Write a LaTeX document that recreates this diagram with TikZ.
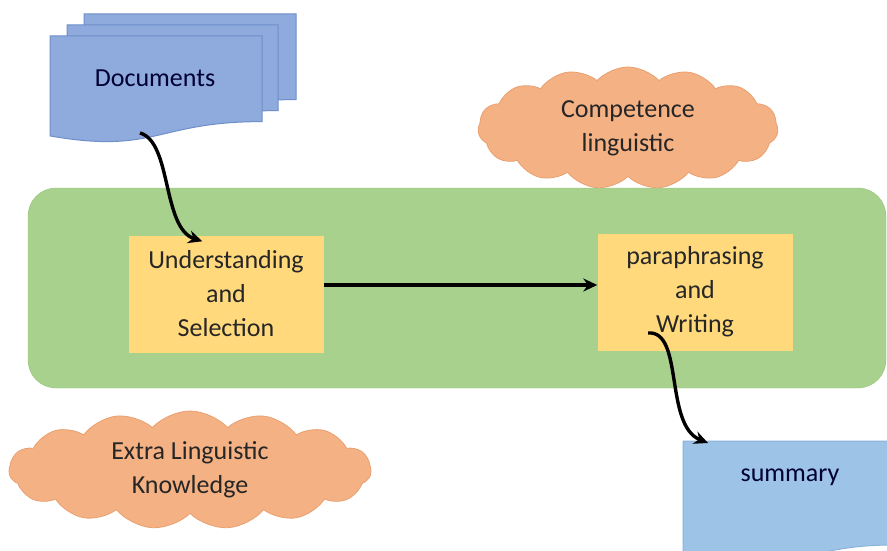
\documentclass[tikz,border=0pt]{standalone}
\usepackage{fontspec}
\setmainfont{Carlito}
\usetikzlibrary{shapes.symbols,arrows.meta,calc}
\definecolor{greenc}{HTML}{A9D18E}
\definecolor{greend}{HTML}{9CC57F}
\definecolor{boxc}{HTML}{FFD97C}
\definecolor{docc}{HTML}{8FAADC}
\definecolor{docd}{HTML}{6F8FCB}
\definecolor{sumc}{HTML}{9DC3E6}
\definecolor{sumd}{HTML}{8AB3DB}
\definecolor{cloudc}{HTML}{F4B183}
\definecolor{cloudd}{HTML}{E9A070}
\definecolor{txt}{HTML}{262626}
\newcommand\mydocshape[4]{(#1,#2) -- ({#1+#3},#2) -- ({#1+#3},{#2+0.8*#4}) .. controls ({#1+0.5*#3},{#2+0.8*#4}) and ({#1+0.5*#3},{#2+1.107*#4}) .. (#1,{#2+0.934*#4}) -- cycle}
\tikzset{
  lbl/.style={font=\fontsize{26}{34}\selectfont, text=txt, align=center},
  procbox/.style={lbl, fill=boxc, minimum width=195, minimum height=117, inner sep=0},
  cloudbox/.style={lbl, cloud, cloud puffs=15, cloud puff arc=95, cloud ignores aspect, fill=cloudc, draw=cloudd, line width=0.8},
  docsheet/.style={fill=docc, draw=docd, line width=1},
  conn/.style={line width=3.4, draw=black, -{Stealth[length=14, width=13]}}
}
\begin{document}
\begin{tikzpicture}[x=1pt,y=-1pt]
\useasboundingbox (0,0) rectangle (887,551);
\fill[white] (0,0) rectangle (887,551);
\begin{scope}
\clip (0,0) rectangle (887,551);
% green band
\node[fill=greenc, draw=greend, rounded corners=28, minimum width=858, minimum height=200, inner sep=0] (band) at (457,288) {};
% documents stack
\draw[docsheet] \mydocshape{84}{14}{212}{107};
\draw[docsheet] \mydocshape{67}{25}{211}{107};
\draw[docsheet] \mydocshape{50}{36}{212}{107};
\node[lbl, text=black!80!blue] (docs) at (155,78) {Documents};
\coordinate (docbot) at (140,133);
% summary
\draw[fill=sumc, draw=sumd, line width=1] \mydocshape{683}{441}{210}{130};
\node[lbl, text=black!80!blue] (sum) at (790,477) {summary};
\coordinate (sumtop) at (708,443);
% clouds
\node[cloudbox, minimum width=300, minimum height=122] (comp) at (628,128) {Competence\\linguistic};
\node[cloudbox, minimum width=362, minimum height=118] (extra) at (190,470) {Extra Linguistic\\Knowledge};
% process boxes
\node[procbox] (und) at (226,294) {Understanding\\and\\Selection};
\node[procbox] (para) at (695,292) {paraphrasing\\and\\Writing};
\coordinate (wrstart) at (648,333);
% connectors
\draw[conn] (docbot) .. controls (172,142) and (162,228) .. ($(und.north west)+(74,6)$);
\draw[conn] (und.east |- 0,285) -- (para.west |- 0,285);
\draw[conn] (wrstart) .. controls (684,330) and (664,425) .. (sumtop);
\end{scope}
\end{tikzpicture}
\end{document}
